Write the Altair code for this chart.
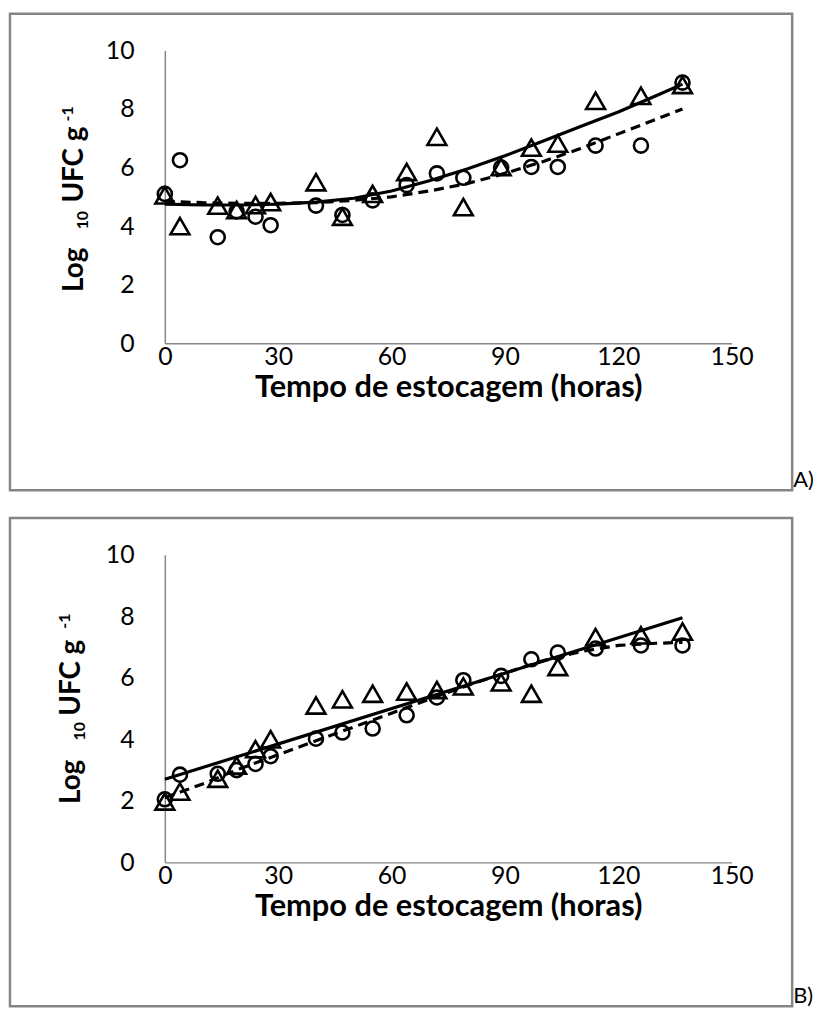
import altair as alt
import pandas as pd

# ---------------- data ----------------
hours_pts = [0, 4, 14, 19, 24, 28, 40, 47, 55, 64, 72, 79, 89, 97, 104, 114, 126, 137]

a_circle = [5.1, 6.25, 3.62, 4.5, 4.32, 4.03, 4.7, 4.38, 4.88, 5.4, 5.8, 5.65, 6.0, 6.02, 6.02, 6.75, 6.75, 8.9]
a_triangle = [5.05, 4.0, 4.7, 4.55, 4.72, 4.82, 5.5, 4.32, 5.1, 5.85, 7.05, 4.65, 6.02, 6.68, 6.82, 8.28, 8.45, 8.82]

b_circle = [2.05, 2.85, 2.88, 3.0, 3.2, 3.45, 4.02, 4.22, 4.35, 4.78, 5.36, 5.92, 6.06, 6.6, 6.82, 6.95, 7.05, 7.05]
b_triangle = [1.98, 2.3, 2.72, 3.15, 3.68, 4.0, 5.1, 5.3, 5.48, 5.55, 5.6, 5.72, 5.85, 5.48, 6.35, 7.32, 7.38, 7.5]

curve_hours = [0, 10, 20, 30, 40, 50, 60, 70, 80, 90, 100, 110, 120, 130, 137]
a_solid = [4.75, 4.72, 4.72, 4.75, 4.82, 4.95, 5.2, 5.55, 5.95, 6.4, 6.9, 7.4, 7.9, 8.45, 8.85]
a_dashed = [4.85, 4.8, 4.78, 4.78, 4.8, 4.88, 5.0, 5.2, 5.45, 5.8, 6.2, 6.65, 7.15, 7.65, 8.0]

b_solid_hours = [0, 137]
b_solid = [2.7, 7.95]
b_dashed = [2.1, 2.55, 3.05, 3.5, 3.95, 4.4, 4.85, 5.3, 5.75, 6.15, 6.55, 6.85, 7.05, 7.12, 7.15]

x_ticks = [0, 30, 60, 90, 120, 150]
y_ticks = [0, 2, 4, 6, 8, 10]
x_title = "Tempo de estocagem (horas)"

FONT = "Lato"
W = 571
GRAY = "#858585"


def df(h, v):
    return pd.DataFrame({"h": h, "v": v})


def panel(circ, tri, sh, sv, dh, dv, height, frame_bottom, letter, ytitle_pos):
    xenc = alt.X("h:Q", scale=alt.Scale(domain=[0, 150], nice=False),
                 axis=alt.Axis(values=x_ticks, title=x_title))
    yenc = alt.Y("v:Q", scale=alt.Scale(domain=[0, 10], nice=False),
                 axis=alt.Axis(values=y_ticks, title=None))
    one = pd.DataFrame({"k": [0]})

    frame = alt.Chart(one).mark_rect(fillOpacity=0, stroke=GRAY, strokeWidth=2.5).encode(
        x=alt.value(-156), x2=alt.value(632), y=alt.value(-37), y2=alt.value(frame_bottom))

    solid = alt.Chart(df(sh, sv)).mark_line(color="black", strokeWidth=3.2).encode(x=xenc, y=yenc)
    dashed = alt.Chart(df(dh, dv)).mark_line(color="black", strokeWidth=3.2, strokeDash=[10, 6]).encode(x=xenc, y=yenc)
    circles = alt.Chart(df(hours_pts, circ)).mark_point(
        shape="circle", filled=False, size=200, strokeWidth=2.6, color="black", opacity=1).encode(x=xenc, y=yenc)
    tris = alt.Chart(df(hours_pts, tri)).mark_point(
        shape="triangle-up", filled=False, size=360, strokeWidth=2.6, color="black", opacity=1).encode(x=xenc, y=yenc)

    (lx, ly), (sx, sy), (ux, uy), (px, py) = ytitle_pos
    t_log = alt.Chart(one).mark_text(text="Log", angle=270, font=FONT, fontWeight="bold", fontSize=28,
                                     align="center", baseline="middle").encode(x=alt.value(lx), y=alt.value(ly))
    t_sub = alt.Chart(one).mark_text(text="10", angle=270, font=FONT, fontWeight="bold", fontSize=16,
                                     align="center", baseline="middle").encode(x=alt.value(sx), y=alt.value(sy))
    t_ufc = alt.Chart(one).mark_text(text="UFC g", angle=270, font=FONT, fontWeight="bold", fontSize=28,
                                     align="center", baseline="middle").encode(x=alt.value(ux), y=alt.value(uy))
    t_sup = alt.Chart(one).mark_text(text="-1", angle=270, font=FONT, fontWeight="bold", fontSize=16,
                                     align="center", baseline="middle").encode(x=alt.value(px), y=alt.value(py))
    t_letter = alt.Chart(one).mark_text(text=letter, font=FONT, fontSize=22, align="left",
                                        baseline="middle").encode(x=alt.value(633), y=alt.value(frame_bottom - 10))

    return alt.layer(frame, solid, dashed, circles, tris, t_log, t_sub, t_ufc, t_sup, t_letter).properties(
        width=W, height=height)


pa = panel(a_circle, a_triangle, curve_hours, a_solid, curve_hours, a_dashed, 295, 443, "A)",
           [(-90, 221), (-82, 171), (-90, 115), (-98, 64)])
pb = panel(b_circle, b_triangle, b_solid_hours, b_solid, curve_hours, b_dashed, 310, 455, "B)",
           [(-93, 229), (-85, 178), (-93, 124), (-101, 67)])

chart = alt.vconcat(pa, pb, spacing=213, bounds="flush").properties(padding=0).configure_view(
    stroke=None).configure_axis(
    grid=False, ticks=False, domainColor=GRAY, domainWidth=1.5,
    labelFont=FONT, labelFontSize=25, labelColor="black", labelPadding=1, labelFlush=False,
    titleFont=FONT, titleFontSize=31, titleFontWeight="bold", titleColor="black", titlePadding=4
).configure_axisY(labelPadding=31)

chart.save("out.html", embed_options={"renderer": "svg", "actions": False})
